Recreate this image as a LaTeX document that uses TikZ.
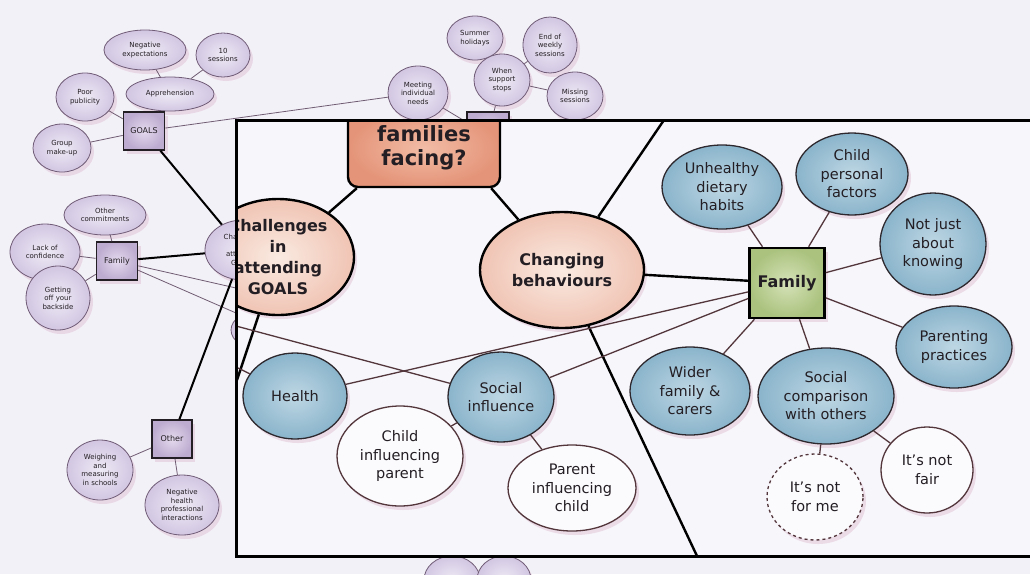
\documentclass[tikz,border=0pt]{standalone}
\usepackage{fontspec}
\setmainfont{DejaVu Sans}
\usetikzlibrary{shapes.geometric,shadows}

\definecolor{paper}{RGB}{243,241,248}
\definecolor{insetbg}{RGB}{247,246,251}
\definecolor{pedge}{RGB}{112,92,118}
\definecolor{pfill}{RGB}{210,198,226}
\definecolor{plight}{RGB}{238,234,245}
\definecolor{pbox}{RGB}{190,172,208}
\definecolor{pboxlight}{RGB}{228,218,238}
\definecolor{pline}{RGB}{112,92,114}
\definecolor{salmon}{RGB}{228,148,120}
\definecolor{salmonlight}{RGB}{242,188,166}
\definecolor{peach}{RGB}{240,196,180}
\definecolor{peachlight}{RGB}{250,234,225}
\definecolor{greenbox}{RGB}{170,194,126}
\definecolor{greenlight}{RGB}{214,226,184}
\definecolor{blueout}{RGB}{138,180,203}
\definecolor{bluein}{RGB}{190,215,228}
\definecolor{nodeedge}{RGB}{45,40,45}
\definecolor{linkbrown}{RGB}{82,54,60}
\definecolor{whitefill}{RGB}{251,250,253}
\definecolor{inkdark}{RGB}{35,30,35}
\definecolor{shadowpink}{RGB}{214,170,196}

\tikzset{
  sz/.style 2 args={minimum width=#1pt, minimum height=#2pt},
  softshadow/.style={drop shadow={shadow xshift=3pt, shadow yshift=-4pt, opacity=0.35, fill=shadowpink}},
  % small background map
  pell/.style={ellipse, draw=pedge, line width=0.8pt, inner color=plight, outer color=pfill,
    text=inkdark, font=\fontsize{7}{8.5}\selectfont, align=center, inner sep=0pt, softshadow},
  pbx/.style={rectangle, draw=inkdark, line width=1.6pt, inner color=pboxlight, outer color=pbox,
    minimum width=41pt, minimum height=38pt, font=\fontsize{8}{9}\selectfont, text=inkdark, softshadow},
  plink/.style={draw=pline, line width=0.8pt},
  pthick/.style={draw=black, line width=2pt},
  % enlarged inset
  bigell/.style={ellipse, draw=black, line width=2.4pt, inner color=peachlight, outer color=peach,
    font=\bfseries\fontsize{16}{21}\selectfont, align=center, text=inkdark, inner sep=0pt, softshadow},
  titlebox/.style={rectangle, rounded corners=10pt, draw=black, line width=2.4pt,
    inner color=salmonlight, outer color=salmon, font=\bfseries\fontsize{21}{24}\selectfont,
    align=center, text=inkdark},
  greenbx/.style={rectangle, draw=black, line width=2.6pt, inner color=greenlight, outer color=greenbox,
    font=\bfseries\fontsize{16}{20}\selectfont, text=inkdark, softshadow},
  blueell/.style={ellipse, draw=nodeedge, line width=1.3pt, inner color=bluein, outer color=blueout,
    font=\fontsize{14.5}{18.5}\selectfont, align=center, inner sep=0pt, text=inkdark, softshadow},
  whiteell/.style={ellipse, draw=linkbrown, line width=1.3pt, fill=whitefill,
    font=\fontsize{14.5}{18.5}\selectfont, align=center, inner sep=0pt, text=inkdark, softshadow},
  link/.style={draw=linkbrown, line width=1.3pt},
  thicklink/.style={draw=black, line width=2.4pt},
}

\begin{document}
\begin{tikzpicture}[x=1pt, y=-1pt]
\useasboundingbox (0,0) rectangle (1030,574);
\clip (0,0) rectangle (1030,574);
\fill[paper] (0,0) rectangle (1030,574);

% ---------------- background concept map ----------------
\node[pell, sz={82}{40}] (negexp) at (145,50) {Negative\\expectations};
\node[pell, sz={54}{44}] (tensess) at (223,55) {10\\sessions};
\node[pell, sz={88}{34}] (appre) at (170,94) {Apprehension};
\node[pell, sz={58}{48}] (poorpub) at (85,97) {Poor\\publicity};
\node[pbx] (goals) at (144,131) {GOALS};
\node[pell, sz={58}{48}] (groupmk) at (62,148) {Group\\make-up};

\node[pell, sz={82}{40}] (othercom) at (105,215) {Other\\commitments};
\node[pell, sz={70}{56}] (lackconf) at (45,252) {Lack of\\confidence};
\node[pbx] (pfamily) at (117,261) {Family};
\node[pell, sz={64}{64}] (getoff) at (58,298) {Getting\\off your\\backside};

\node[pell, sz={76}{60}] (pchall) at (243,250) {Challenges\\in\\attending\\GOALS};
\node[pell, sz={62}{40}] (phidden) at (262,330) {};

\node[pbx, minimum width=40pt] (other) at (172,439) {Other};
\node[pell, sz={66}{60}] (weigh) at (100,470) {Weighing\\and\\measuring\\in schools};
\node[pell, sz={74}{60}] (neghp) at (182,505) {Negative\\health\\professional\\interactions};

\node[pell, sz={60}{54}] (meeting) at (418,93) {Meeting\\individual\\needs};
\node[pell, sz={56}{44}] (summer) at (475,38) {Summer\\holidays};
\node[pell, sz={54}{56}] (endweek) at (550,45) {End of\\weekly\\sessions};
\node[pell, sz={56}{52}] (whensup) at (502,80) {When\\support\\stops};
\node[pell, sz={56}{48}] (missing) at (575,96) {Missing\\sessions};
\node[pbx, minimum width=42pt, minimum height=46pt] (pcentre) at (488,135) {};

\node[pell, sz={56}{48}] (pbottomA) at (452,580) {};
\node[pell, sz={54}{48}] (pbottomB) at (504,580) {};

\coordinate (pfexitA) at (236,288);
\coordinate (pfexitB) at (236,313);

\draw[plink] (negexp) -- (appre);
\draw[plink] (tensess) -- (appre);
\draw[plink] (appre) -- (goals);
\draw[plink] (poorpub) -- (goals);
\draw[plink] (groupmk) -- (goals);
\draw[plink] (goals) -- (meeting);
\draw[pthick] (goals) -- (pchall);
\draw[plink] (othercom) -- (pfamily);
\draw[plink] (lackconf) -- (pfamily);
\draw[plink] (getoff) -- (pfamily);
\draw[pthick] (pfamily) -- (pchall);
\draw[plink] (pfamily) -- (pfexitA);
\draw[plink] (pfamily) -- (pfexitB);
\draw[pthick] (pchall) -- (other);
\draw[plink] (other) -- (weigh);
\draw[plink] (other) -- (neghp);
\draw[plink] (meeting) -- (pcentre);
\draw[plink] (whensup) -- (pcentre);
\draw[plink] (whensup) -- (endweek);
\draw[plink] (whensup) -- (missing);

% ---------------- enlarged inset ----------------
\fill[insetbg] (236,120) rectangle (1040,556);
\begin{scope}
\clip (236,120) rectangle (1040,556);

\node[titlebox, sz={152}{78}] (whatbox) at (424,148) {families\\facing?};
\node[bigell, sz={152}{116}] (challenges) at (278,257) {Challenges\\in\\attending\\GOALS};
\node[bigell, sz={164}{116}] (changing) at (562,270) {Changing\\behaviours};
\node[greenbx, sz={75}{70}] (famg) at (787,283) {Family};

\node[blueell, sz={120}{84}] (unhealthy) at (722,187) {Unhealthy\\dietary\\habits};
\node[blueell, sz={112}{82}] (childpf) at (852,174) {Child\\personal\\factors};
\node[blueell, sz={106}{102}] (notjust) at (933,244) {Not just\\about\\knowing};
\node[blueell, sz={116}{82}] (parenting) at (954,347) {Parenting\\practices};
\node[blueell, sz={136}{96}] (socialcomp) at (826,396) {Social\\comparison\\with others};
\node[blueell, sz={120}{88}] (wider) at (690,391) {Wider\\family \&\\carers};
\node[blueell, sz={104}{86}] (health) at (295,396) {Health};
\node[blueell, sz={106}{90}] (socialinf) at (501,397) {Social\\influence};

\node[whiteell, sz={126}{100}] (childinf) at (400,456) {Child\\influencing\\parent};
\node[whiteell, sz={128}{86}] (parentinf) at (572,488) {Parent\\influencing\\child};
\node[whiteell, sz={92}{86}] (notfair) at (927,470) {It's not\\fair};
\node[whiteell, dashed, sz={96}{86}] (notforme) at (815,497) {It's not\\for me};

\coordinate (topexit) at (664,120);
\coordinate (bottomexit) at (697,556);
\coordinate (leftexit) at (237,380);
\coordinate (leftentryA) at (236,326);
\coordinate (leftentryB) at (236,367);

\draw[thicklink] ([xshift=10pt]whatbox.south west) -- (challenges);
\draw[thicklink] ([xshift=-10pt]whatbox.south east) -- (changing);
\draw[thicklink] (changing) -- (topexit);
\draw[thicklink] (changing) -- (famg);
\draw[thicklink] (changing) -- (bottomexit);
\draw[thicklink] (challenges) -- (leftexit);

\draw[link] (famg) -- (unhealthy);
\draw[link] (famg) -- (childpf);
\draw[link] (famg) -- (notjust);
\draw[link] (famg) -- (parenting);
\draw[link] (famg) -- (socialcomp);
\draw[link] (famg) -- (wider);
\draw[link] (famg) -- (health);
\draw[link] (famg) -- (socialinf);
\draw[link] (socialcomp) -- (notforme);
\draw[link] (socialcomp) -- (notfair);
\draw[link] (socialinf) -- (childinf);
\draw[link] (socialinf) -- (parentinf);
\draw[link] (leftentryA) -- (socialinf);
\draw[link] (leftentryB) -- (health);
\end{scope}
\draw[black, line width=3pt] (1040,120) -- (236,120) -- (236,556) -- (1040,556);
\end{tikzpicture}
\end{document}
